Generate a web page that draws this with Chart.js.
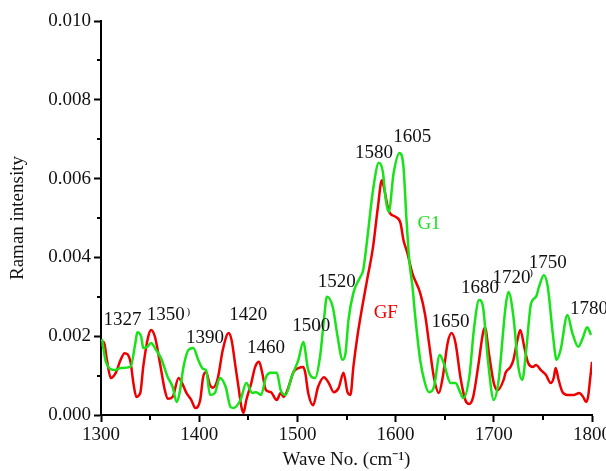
<!DOCTYPE html>
<html><head><meta charset="utf-8">
<script src="https://cdn.jsdelivr.net/npm/chart.js@4/dist/chart.umd.min.js"></script>
<style>html,body{margin:0;padding:0;background:#fff}canvas{display:block}</style>
</head><body>
<canvas id="c" width="606" height="471"></canvas>
<script>
// ---- data ----
const g1Wave = [1301,1305,1314,1320,1330,1335,1337,1341,1343,1347,1351,1356,1361,1368,1373,1377,1380,1384,1389,1394,1399,1404,1407,1411,1416,1421,1427,1432,1435,1442,1448,1454,1458,1463,1468,1473,1479,1483,1488,1494,1501,1506,1511,1518,1523,1527,1530,1536,1541,1546,1549,1552,1557,1564,1567,1571,1577,1583,1587,1590,1593,1598,1604,1608,1611,1614,1617,1620,1625,1630,1634,1639,1645,1649,1656,1661,1666,1669,1675,1680,1685,1689,1694,1700,1705,1707,1712,1715,1720,1725,1729,1733,1738,1743,1746,1751,1755,1760,1764,1768,1775,1780,1786,1791,1795,1799];
const g1Intensity = [0.00193,0.00135,0.00114,0.00119,0.00122,0.00183,0.00210,0.00198,0.00170,0.00173,0.00183,0.00165,0.00145,0.00096,0.00071,0.00033,0.00056,0.00122,0.00165,0.00170,0.00140,0.00117,0.00114,0.00051,0.00056,0.00094,0.00071,0.00020,0.00018,0.00038,0.00081,0.00056,0.00058,0.00051,0.00096,0.00107,0.00107,0.00063,0.00051,0.00096,0.00140,0.00185,0.00114,0.00094,0.00147,0.00241,0.00300,0.00274,0.00198,0.00140,0.00157,0.00241,0.00310,0.00350,0.00368,0.00444,0.00571,0.00640,0.00617,0.00546,0.00515,0.00614,0.00665,0.00630,0.00500,0.00390,0.00330,0.00250,0.00140,0.00080,0.00058,0.00071,0.00152,0.00132,0.00081,0.00081,0.00056,0.00043,0.00096,0.00223,0.00292,0.00274,0.00140,0.00038,0.00089,0.00140,0.00275,0.00312,0.00249,0.00122,0.00089,0.00165,0.00284,0.00300,0.00325,0.00355,0.00325,0.00208,0.00140,0.00165,0.00254,0.00208,0.00173,0.00198,0.00223,0.00203];
const gfWave = [1301,1303,1306,1310,1315,1320,1324,1330,1333,1336,1340,1343,1348,1351,1355,1360,1365,1368,1373,1379,1382,1387,1392,1396,1401,1404,1407,1411,1414,1419,1424,1430,1433,1437,1440,1443,1445,1448,1453,1457,1461,1464,1468,1473,1479,1483,1486,1491,1496,1501,1506,1508,1511,1516,1521,1527,1532,1537,1542,1547,1551,1554,1557,1561,1566,1571,1577,1582,1586,1588,1592,1594,1600,1605,1608,1612,1617,1625,1630,1634,1639,1644,1648,1653,1657,1661,1666,1671,1675,1679,1684,1689,1691,1695,1700,1704,1710,1712,1717,1720,1724,1727,1731,1735,1740,1743,1748,1753,1758,1761,1763,1766,1770,1775,1782,1787,1791,1794,1796,1798,1800];
const gfIntensity = [0.00173,0.00185,0.00140,0.00094,0.00107,0.00140,0.00157,0.00135,0.00081,0.00046,0.00056,0.00122,0.00198,0.00216,0.00198,0.00132,0.00063,0.00041,0.00046,0.00094,0.00084,0.00056,0.00038,0.00018,0.00038,0.00096,0.00109,0.00076,0.00069,0.00094,0.00165,0.00208,0.00190,0.00122,0.00071,0.00020,0.00005,0.00038,0.00081,0.00122,0.00135,0.00109,0.00063,0.00058,0.00038,0.00056,0.00046,0.00071,0.00109,0.00119,0.00122,0.00107,0.00056,0.00025,0.00071,0.00096,0.00081,0.00058,0.00069,0.00107,0.00058,0.00051,0.00122,0.00198,0.00274,0.00343,0.00426,0.00528,0.00596,0.00579,0.00528,0.00513,0.00503,0.00487,0.00444,0.00411,0.00360,0.00310,0.00255,0.00183,0.00096,0.00056,0.00096,0.00183,0.00208,0.00183,0.00096,0.00038,0.00028,0.00046,0.00122,0.00208,0.00223,0.00157,0.00081,0.00063,0.00089,0.00107,0.00122,0.00140,0.00190,0.00216,0.00173,0.00132,0.00122,0.00127,0.00114,0.00102,0.00081,0.00094,0.00119,0.00089,0.00058,0.00051,0.00051,0.00056,0.00046,0.00033,0.00046,0.00089,0.00135];
const xTickValues = [1300,1400,1500,1600,1700,1800];
const xMinorTicks = [1350,1450,1550,1650,1750];
const yTickValues = [0.000,0.002,0.004,0.006,0.008,0.010];
const yMinorTicks = [0.001,0.003,0.005,0.007,0.009];
const seriesNames = ['G1','GF'];
// peak annotations: text, wavenumber, intensity (label centre)
const peakLabels = [
  ['1327',1322,0.00241],['1350',1366,0.00254],['1390',1406,0.00195],['1420',1450,0.00254],
  ['1460',1468,0.00170],['1500',1514,0.00226],['1520',1540,0.00338],['1580',1578,0.00665],
  ['1605',1617,0.00706],['1650',1656,0.00236],['1680',1686,0.00322],['1720',1718,0.00348],
  ['1750',1755,0.00386],['1780',1797,0.00269]
];
const smallMarks = [[')',1389,0.00262],[')',1522,0.00226],[')',1738,0.00360]];
const seriesLabels = [['G1',1634,0.00485],['GF',1590,0.00259]];

const GREEN = 'rgb(24,226,24)';
const RED = 'rgb(238,0,0)';
const FONT = '"Liberation Serif","Times New Roman",serif';
const FS = 19;

const decor = {
  id: 'decor',
  afterDraw(chart) {
    const ctx = chart.ctx, xs = chart.scales.x, ys = chart.scales.y;
    const area = chart.chartArea;
    ctx.save();
    ctx.strokeStyle = '#000'; ctx.lineWidth = 2;
    ctx.beginPath();
    xMinorTicks.forEach(v => { const px = Math.round(xs.getPixelForValue(v)); ctx.moveTo(px, area.bottom); ctx.lineTo(px, area.bottom + 5); });
    yMinorTicks.forEach(v => { const py = Math.round(ys.getPixelForValue(v)); ctx.moveTo(area.left, py); ctx.lineTo(area.left - 4, py); });
    ctx.stroke();
    ctx.textAlign = 'center'; ctx.textBaseline = 'middle';
    ctx.font = FS + 'px ' + FONT; ctx.fillStyle = '#111';
    peakLabels.forEach(([t, w, v]) => ctx.fillText(t, xs.getPixelForValue(w), ys.getPixelForValue(v)));
    ctx.font = '11px ' + FONT;
    smallMarks.forEach(([t, w, v]) => ctx.fillText(t, xs.getPixelForValue(w), ys.getPixelForValue(v)));
    ctx.font = FS + 'px ' + FONT;
    seriesLabels.forEach(([t, w, v], i) => { ctx.fillStyle = i === 0 ? GREEN : RED; ctx.fillText(t, xs.getPixelForValue(w), ys.getPixelForValue(v)); });
    ctx.restore();
  }
};

new Chart(document.getElementById('c'), {
  type: 'scatter',
  data: {
    datasets: [
      { label: seriesNames[0], data: g1Wave.map((w, i) => ({x: w, y: g1Intensity[i]})), showLine: true, borderColor: GREEN, borderWidth: 2.5, pointRadius: 0, cubicInterpolationMode: 'monotone' },
      { label: seriesNames[1], data: gfWave.map((w, i) => ({x: w, y: gfIntensity[i]})), showLine: true, borderColor: RED, borderWidth: 2.5, pointRadius: 0, cubicInterpolationMode: 'monotone' }
    ]
  },
  options: {
    responsive: false, animation: false,
    layout: { padding: { left: 0, right: 14, top: 21, bottom: 0 } },
    plugins: { legend: { display: false }, tooltip: { enabled: false } },
    scales: {
      x: {
        type: 'linear', min: 1300, max: 1800,
        afterBuildTicks: s => { s.ticks = xTickValues.map(v => ({value: v})); },
        afterFit: s => { s.height = 56; s.paddingLeft = 0; s.paddingRight = 0; },
        grid: { drawOnChartArea: false, drawTicks: true, tickLength: 7, tickWidth: 2, tickColor: '#000' },
        border: { display: true, color: '#000', width: 2 },
        ticks: { color: '#111', font: { family: FONT, size: FS }, padding: 2, maxRotation: 0, autoSkip: false, callback: v => String(v) },
        title: { display: true, text: 'Wave No. (cm\u207B\u00B9)', color: '#111', font: { family: FONT, size: FS }, padding: { top: 0, bottom: 0 } }
      },
      y: {
        type: 'linear', min: 0, max: 0.010,
        afterBuildTicks: s => { s.ticks = yTickValues.map(v => ({value: v})); },
        afterFit: s => { s.width = 101; s.paddingTop = 0; s.paddingBottom = 0; },
        grid: { drawOnChartArea: false, drawTicks: true, tickLength: 7, tickWidth: 2, tickColor: '#000' },
        border: { display: true, color: '#000', width: 2 },
        ticks: { color: '#111', font: { family: FONT, size: FS }, padding: 3, callback: v => Number(v).toFixed(3) },
        title: { display: true, text: 'Raman intensity', color: '#111', font: { family: FONT, size: FS }, padding: { top: 7, bottom: 0 } }
      }
    }
  },
  plugins: [decor]
});
</script>
</body></html>
